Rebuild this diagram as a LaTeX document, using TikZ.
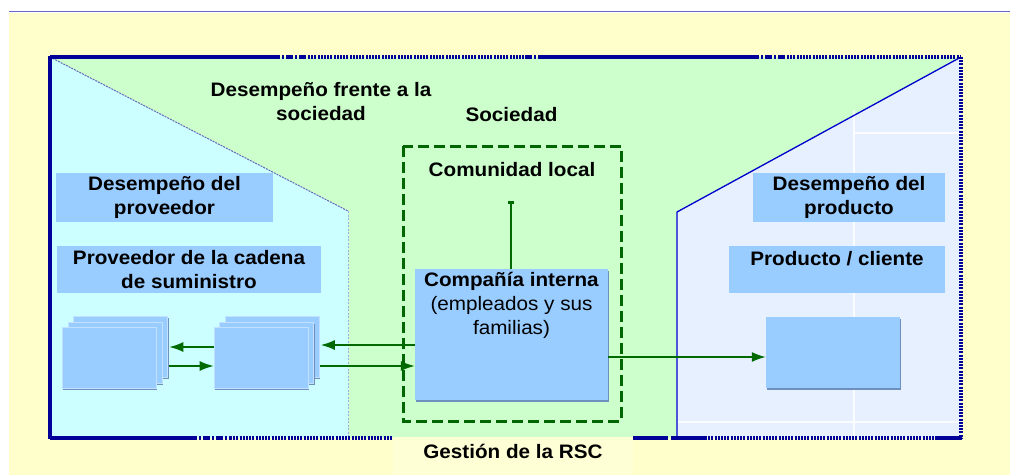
\documentclass[tikz,border=0pt]{standalone}
\usepackage{fontspec}
\setmainfont{Liberation Sans}[FakeStretch=1.06]
\usetikzlibrary{arrows.meta,shadows,calc}
\definecolor{bgy}{HTML}{FFFFCC}
\definecolor{gesty}{HTML}{FFFFD6}
\definecolor{topl}{HTML}{6666CC}
\definecolor{grn}{HTML}{CCFFCC}
\definecolor{cyn}{HTML}{CCFFFF}
\definecolor{rgt}{HTML}{E6F0FF}
\definecolor{boxb}{HTML}{99CCFF}
\definecolor{shad}{HTML}{6F8FBF}
\definecolor{frm}{HTML}{000099}
\definecolor{arrg}{HTML}{006A00}
\definecolor{dashg}{HTML}{006600}
\newcommand{\dgfont}{\fontsize{19.5}{24}\selectfont}
\tikzset{
  lbl/.style={fill=boxb, inner sep=0pt, align=center, font=\dgfont\bfseries},
  plain/.style={inner sep=0pt, align=center, font=\dgfont\bfseries},
  stk/.style={fill=boxb, draw=boxb!60!white, line width=0.6pt, minimum width=94pt, minimum height=61pt, inner sep=0pt,
    drop shadow={shadow xshift=1.2pt, shadow yshift=-1.5pt, fill=shad, opacity=1}},
  bigbox/.style={fill=boxb, inner sep=0pt,
    drop shadow={shadow xshift=1.2pt, shadow yshift=-1.5pt, fill=shad, opacity=1}},
  arr/.style={draw=arrg, line width=1.6pt, -{Latex[length=14pt,width=10pt]}},
  fsolid/.style={draw=frm, line width=4.2pt},
  fdot/.style={draw=frm, line width=4.2pt, dash pattern=on 2pt off 1.2pt},
  fdashdot/.style={draw=frm, line width=4.2pt, dash pattern=on 7pt off 2pt on 2pt off 2pt},
}
\begin{document}
\begin{tikzpicture}[x=1pt,y=-1pt, font=\dgfont]
\useasboundingbox (0,0) rectangle (1010,475);
\fill[white] (0,0) rectangle (1010,475);
\fill[bgy] (9,13) rectangle (1010,475);
\draw[topl, line width=1.6pt] (9,11.5) -- (1010,11.5);
% regions
\fill[grn] (50,57) rectangle (961,438);
\fill[cyn] (50,57) -- (348,211) -- (348,438) -- (50,438) -- cycle;
\fill[rgt] (961,57) -- (677,212) -- (677,438) -- (961,438) -- cycle;
\draw[white, line width=1.2pt, opacity=0.8] (854,110) -- (854,437);
\draw[white, line width=1.2pt, opacity=0.8] (854,133) -- (960,133);
\draw[white, line width=1.2pt, opacity=0.8] (678,422) -- (960,422);
\draw[draw=black!45!blue!60, line width=1pt, dash pattern=on 2pt off 1pt] (50,57) -- (348,211);
\draw[draw=black!30!blue!35, line width=0.8pt, dash pattern=on 2pt off 1.5pt] (348,211) -- (348,438);
\draw[draw=blue!80!black, line width=1.3pt] (961,57) -- (677,212) -- (677,438);
% Gestion label area
\fill[gesty] (393,437) rectangle (633,475);
\node[plain] (gest) at (513,451) {Gestión de la RSC};
% frame
\draw[fsolid] (50,57) -- (273,57);
\draw[fdashdot] (273,57) -- (308,57);
\draw[fdot] (308,57) -- (525,57);
\draw[fdashdot] (525,57) -- (538,57);
\draw[fsolid] (538,57) -- (752,57);
\draw[fdashdot] (752,57) -- (787,57);
\draw[fdot] (787,57) -- (961,57);
\draw[fdot] (961,57) -- (961,439);
\draw[fsolid] (50,56) -- (50,439);
\draw[fsolid] (50,438) -- (190,438);
\draw[fdashdot] (190,438) -- (230,438);
\draw[fdot] (230,438) -- (393,438);
\draw[fsolid] (633,438) -- (668,438);
\draw[fsolid] (671,438) -- (705,438);
\draw[fdot] (705,438) -- (935,438);
\draw[fsolid] (935,438) -- (962,438);
% texts in society area
\node[plain] (dfs) at (321,102) {Desempeño frente a la\\sociedad};
\node[plain] (soc) at (511.5,115) {Sociedad};
% dashed community box
\draw[dashg, line width=3pt, dash pattern=on 11pt off 5pt] (403,146) rectangle (621,421);
\node[plain] (com) at (512,170) {Comunidad local};
% company box
\node[bigbox, minimum width=193pt, minimum height=131pt] (comp) at (511.5,334.5) {};
\node[inner sep=0pt, align=center] (comptxt) at (511.5,305) {\textbf{Compañía interna}\\(empleados y sus\\familias)};
\coordinate (cltop) at (511,201);
\draw[draw=arrg, line width=1.5pt, -{Bar[width=6pt,line width=2.5pt]}] (comp.north -| cltop) -- (cltop);
% left labels
\node[lbl, minimum width=217pt, minimum height=49pt] (dprov) at (164.5,197.5) {Desempeño del\\proveedor};
\node[lbl, minimum width=264pt, minimum height=47pt] (prov) at (189,269.5) {Proveedor de la cadena\\de suministro};
% right labels
\node[lbl, minimum width=192pt, minimum height=49pt] (dprod) at (849,197.5) {Desempeño del\\producto};
\node[lbl, minimum width=216pt, minimum height=47pt] (pc) at (837,269.5) {};
\node[plain] (pctxt) at (837,259) {Producto / cliente};
% stacks
\node[stk] (s1c) at (120.5,347) {};
\node[stk] (s1b) at (115,352.5) {};
\node[stk] (s1a) at (109,357.5) {};
\node[stk] (s2c) at (272,347) {};
\node[stk] (s2b) at (266.5,352.5) {};
\node[stk] (s2a) at (261,357.5) {};
% product box
\node[bigbox, minimum width=134pt, minimum height=71pt] (prod) at (833,352.5) {};
% arrows
\draw[arr] (s2a.west |- 0,347) -- ([xshift=1.5pt]s1c.east |- 0,347);
\draw[arr] ([xshift=1pt]s1c.east |- 0,366) -- (s2a.west |- 0,366);
\draw[arr] (comp.west |- 0,345) -- ([xshift=1.5pt]s2c.east |- 0,345);
\draw[arr] ([xshift=1pt]s2c.east |- 0,366) -- (comp.west |- 0,366);
\draw[arr] (comp.east |- 0,357) -- (prod.west |- 0,357);
\end{tikzpicture}
\end{document}
